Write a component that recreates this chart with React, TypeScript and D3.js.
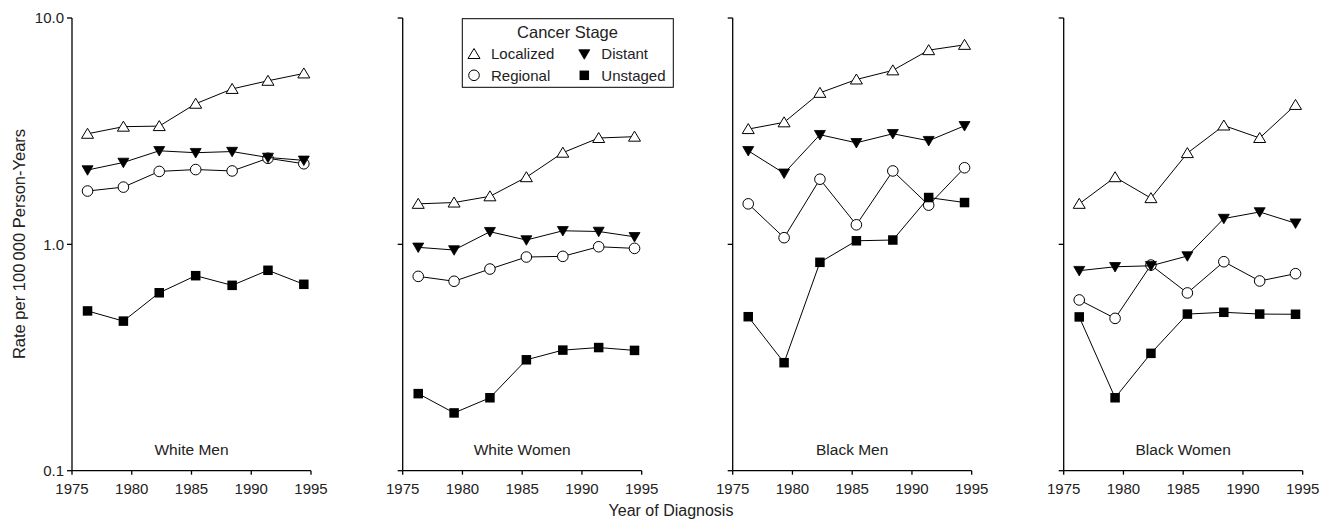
import React from "react";
import * as d3 from "d3";

const years = [1976.3, 1979.3, 1982.3, 1985.35, 1988.4, 1991.4, 1994.4];
const panels = ["White Men", "White Women", "Black Men", "Black Women"];
const stages = ["Localized", "Regional", "Distant", "Unstaged"];
const xTicks = [1975, 1980, 1985, 1990, 1995];
const yTicks = [0.1, 1, 10];
const yTickLabels = ["0.1", "1.0", "10.0"];

const localized = [
  [3.08, 3.31, 3.33, 4.18, 4.86, 5.28, 5.69],
  [1.51, 1.53, 1.63, 1.98, 2.54, 2.95, 2.99],
  [3.23, 3.46, 4.67, 5.35, 5.87, 7.21, 7.61],
  [1.51, 1.98, 1.6, 2.53, 3.35, 2.95, 4.13],
];
const regional = [
  [1.72, 1.79, 2.1, 2.14, 2.11, 2.4, 2.27],
  [0.722, 0.687, 0.778, 0.879, 0.885, 0.976, 0.96],
  [1.51, 1.07, 1.94, 1.22, 2.11, 1.49, 2.18],
  [0.568, 0.471, 0.81, 0.61, 0.838, 0.689, 0.742],
];
const distant = [
  [2.13, 2.3, 2.59, 2.54, 2.57, 2.42, 2.35],
  [0.97, 0.944, 1.137, 1.045, 1.148, 1.14, 1.08],
  [2.59, 2.06, 3.05, 2.81, 3.08, 2.87, 3.34],
  [0.765, 0.796, 0.804, 0.888, 1.3, 1.39, 1.24],
];
const unstaged = [
  [0.508, 0.458, 0.611, 0.727, 0.659, 0.768, 0.666],
  [0.219, 0.18, 0.21, 0.309, 0.341, 0.35, 0.34],
  [0.479, 0.3, 0.833, 1.037, 1.045, 1.61, 1.53],
  [0.478, 0.21, 0.33, 0.492, 0.501, 0.492, 0.491],
];

const W = 1320;
const H = 519;
const panelX = [72, 402.7, 732.7, 1063.7];
const panelW = 239;
const yTop = 18;
const yBot = 470.7;
const FONT = "'Liberation Sans', Arial, Helvetica, sans-serif";
const TXT = "#222";

const y = d3.scaleLog().domain([0.1, 10]).range([yBot, yTop]);

function Marker({ kind, cx, cy }: { kind: string; cx: number; cy: number }) {
  if (kind === "Localized") {
    const w = 6, h = 10;
    return (
      <path
        d={`M${cx},${cy - h * 0.55} L${cx + w},${cy + h * 0.45} L${cx - w},${cy + h * 0.45} Z`}
        fill="#fff" stroke="#000" strokeWidth={1}
      />
    );
  }
  if (kind === "Distant") {
    const w = 5.5, h = 9.5;
    return (
      <path
        d={`M${cx - w},${cy - h * 0.45} L${cx + w},${cy - h * 0.45} L${cx},${cy + h * 0.55} Z`}
        fill="#000" stroke="#000" strokeWidth={0.8}
      />
    );
  }
  if (kind === "Regional") {
    return <circle cx={cx} cy={cy} r={5.3} fill="#fff" stroke="#000" strokeWidth={1} />;
  }
  const s = 9.5;
  return <rect x={cx - s / 2} y={cy - s / 2} width={s} height={s} fill="#000" />;
}

const seriesData: Record<string, number[][]> = {
  Localized: localized,
  Regional: regional,
  Distant: distant,
  Unstaged: unstaged,
};
const drawOrder = ["Regional", "Localized", "Distant", "Unstaged"];

function Panel({ idx }: { idx: number }) {
  const x0 = panelX[idx];
  const x = d3.scaleLinear().domain([1975, 1995]).range([x0, x0 + panelW]);
  const line = d3
    .line<number>()
    .x((_, i) => x(years[i]))
    .y((v) => y(v));
  return (
    <g>
      <line x1={x0} x2={x0} y1={yTop} y2={yBot} stroke="#000" strokeWidth={1.3} />
      <line x1={x0} x2={x(1995)} y1={yBot} y2={yBot} stroke="#000" strokeWidth={1.3} />
      {yTicks.map((t, i) => (
        <g key={"yt" + i}>
          <line x1={x0 - 5} x2={x0} y1={y(t)} y2={y(t)} stroke="#000" strokeWidth={1.3} />
          {idx === 0 && (
            <text
              x={x0 - 8}
              y={y(t)}
              dy="0.35em"
              textAnchor="end"
              fontFamily={FONT}
              fontSize={15}
              fill={TXT}
            >
              {yTickLabels[i]}
            </text>
          )}
        </g>
      ))}
      {xTicks.map((t) => (
        <g key={"xt" + t}>
          <line x1={x(t)} x2={x(t)} y1={yBot} y2={yBot + 4} stroke="#000" strokeWidth={1.3} />
          <text
            x={x(t)}
            y={yBot + 18}
            dy="0.35em"
            textAnchor="middle"
            fontFamily={FONT}
            fontSize={15}
            fill={TXT}
          >
            {t}
          </text>
        </g>
      ))}
      <text
        x={x0 + panelW / 2}
        y={450}
        dy="0.35em"
        textAnchor="middle"
        fontFamily={FONT}
        fontSize={15.5}
        fill={TXT}
      >
        {panels[idx]}
      </text>
      {drawOrder.map((s) => (
        <g key={s}>
          <path d={line(seriesData[s][idx]) || ""} fill="none" stroke="#000" strokeWidth={1} />
          {seriesData[s][idx].map((v, i) => (
            <Marker key={i} kind={s} cx={x(years[i])} cy={y(v)} />
          ))}
        </g>
      ))}
    </g>
  );
}

function Legend() {
  const bx = 462.3, by = 18.7, bw = 211, bh = 68.6;
  const col = [474, 584.3];
  const rows = [54, 75.3];
  const layout = [
    ["Localized", 0, 0],
    ["Distant", 1, 0],
    ["Regional", 0, 1],
    ["Unstaged", 1, 1],
  ] as [string, number, number][];
  return (
    <g>
      <rect x={bx} y={by} width={bw} height={bh} fill="#fff" stroke="#000" strokeWidth={1} />
      <text
        x={567.5}
        y={32.5}
        dy="0.35em"
        textAnchor="middle"
        fontFamily={FONT}
        fontSize={16.5}
        fill={TXT}
      >
        Cancer Stage
      </text>
      {layout.map(([s, c, r]) => (
        <g key={s}>
          <Marker kind={s} cx={col[c]} cy={rows[r]} />
          <text
            x={col[c] + 17}
            y={rows[r]}
            dy="0.35em"
            fontFamily={FONT}
            fontSize={15}
            fill={TXT}
          >
            {stages[stages.indexOf(s)]}
          </text>
        </g>
      ))}
    </g>
  );
}

export default function App() {
  return (
    <svg
      width={W}
      height={H}
      style={{ position: "absolute", left: 0, top: 0, background: "#fff" }}
    >
      <rect width={W} height={H} fill="#fff" />
      {panels.map((_, i) => (
        <Panel key={i} idx={i} />
      ))}
      <Legend />
      <text
        transform={`translate(19,244) rotate(-90)`}
        textAnchor="middle"
        dy="0.35em"
        fontFamily={FONT}
        fontSize={16.5}
        fill={TXT}
      >
        Rate per 100{"\u2009"}000 Person-Years
      </text>
      <text
        x={671}
        y={510}
        dy="0.35em"
        textAnchor="middle"
        fontFamily={FONT}
        fontSize={16}
        fill={TXT}
      >
        Year of Diagnosis
      </text>
    </svg>
  );
}
